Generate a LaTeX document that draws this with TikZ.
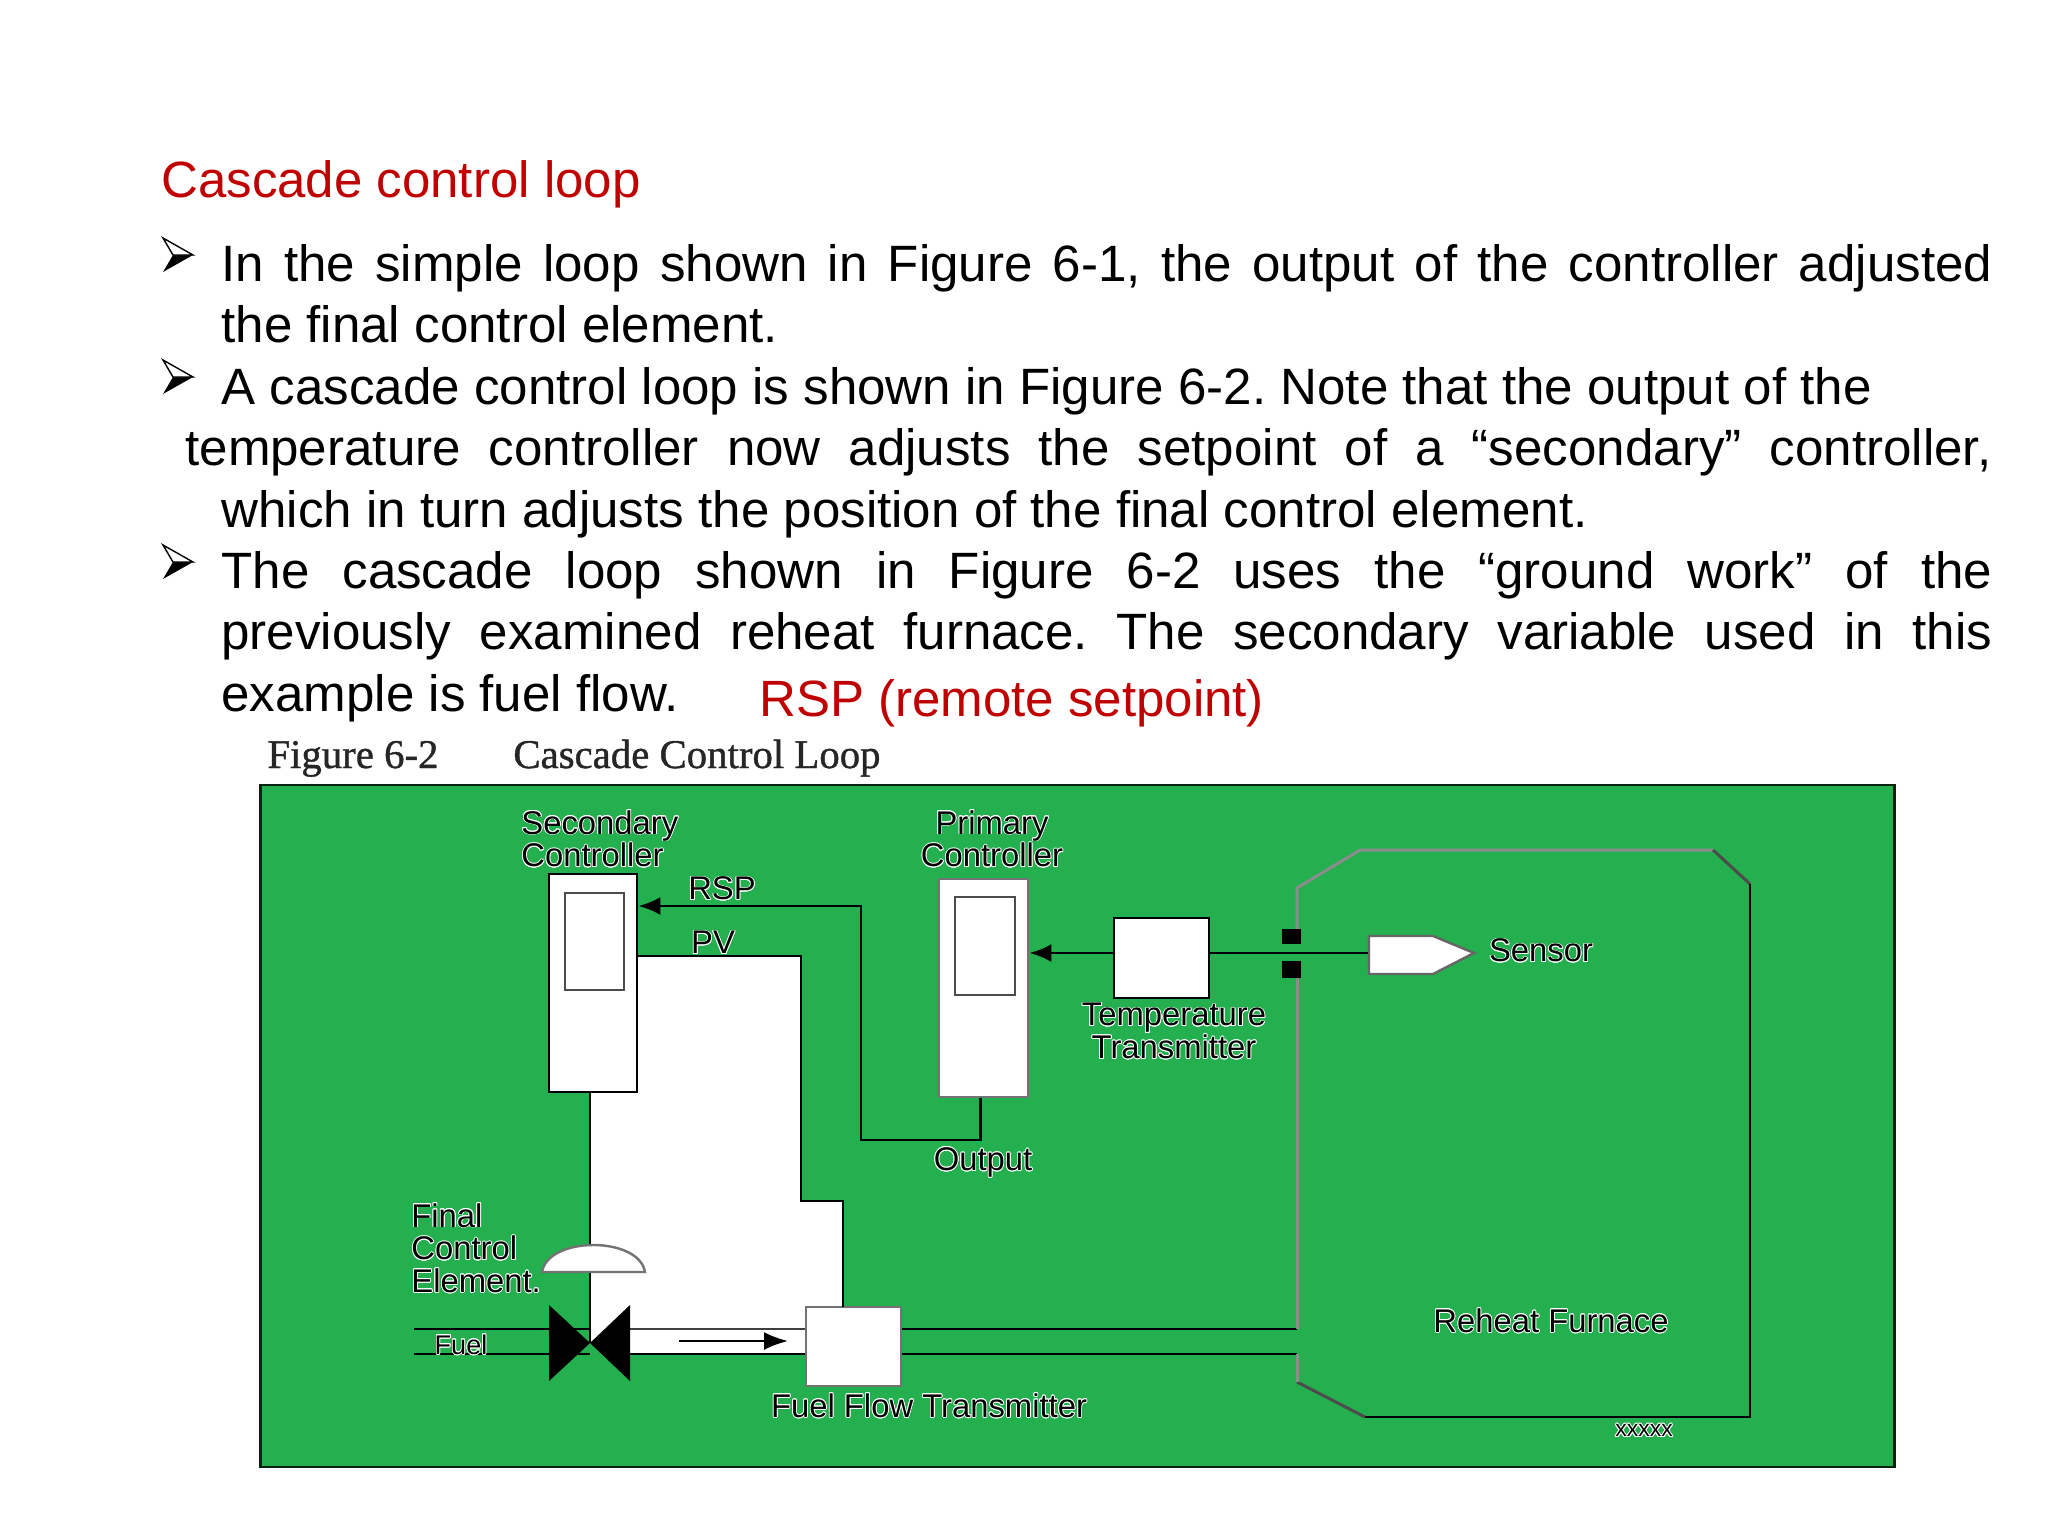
\documentclass[tikz,border=0pt]{standalone}
\usepackage{fontspec}
\setmainfont{Liberation Sans}
\newfontfamily\figfont[FakeBold=1]{Liberation Serif}
\usepackage[copies]{contour}
\contourlength{0.4pt}
\usetikzlibrary{arrows.meta, calc}
\definecolor{cGreen}{RGB}{36,176,78}
\definecolor{cRed}{RGB}{192,0,0}
\newcommand{\gl}[1]{\contour{white}{#1}}
\frenchspacing
\begin{document}
\begin{tikzpicture}[x=0.5pt, y=-0.5pt,
            body/.style={anchor=base west, inner sep=0pt, font=\fontsize{25.55}{30}\selectfont},
            head/.style={anchor=base west, inner sep=0pt, text=cRed, font=\fontsize{25.5}{30}\selectfont},
            lbl/.style={inner sep=0pt, align=center, text=black, font=\fontsize{16.4}{16.3}\selectfont},
            figcap/.style={anchor=base west, inner sep=0pt, text=black!85, font=\figfont\fontsize{20.4}{24}\selectfont},
            boxb/.style={draw=black, fill=white, line width=1.4pt, inner sep=0pt},
            wire/.style={draw=black, line width=1.4pt},
            wall/.style={draw=black!45, line width=1.5pt}]
            \useasboundingbox (0,0) rectangle (2048,1536);
            % text lines
            \node[head] (title) at (161,197) {Cascade control loop};
            \node[body] (l1) at (221,281) {\makebox[885.5pt][s]{In the simple loop shown in Figure 6-1, the output of the controller adjusted}};
            \node[body] (l2) at (221,342) {the final control element.};
            \node[body] (l3) at (221,404) {A cascade control loop is shown in Figure 6-2. Note that the output of the};
            \node[body] (l4) at (185,465) {\makebox[903pt][s]{temperature controller now adjusts the setpoint of a “secondary” controller,}};
            \node[body] (l5) at (221,527) {which in turn adjusts the position of the final control element.};
            \node[body] (l6) at (221,588) {\makebox[885.5pt][s]{The cascade loop shown in Figure 6-2 uses the “ground work” of the}};
            \node[body] (l7) at (221,649) {\makebox[885.5pt][s]{previously examined reheat furnace. The secondary variable used in this}};
            \node[body] (l8) at (221,711) {example is fuel flow.};
            \node[head] (rsp) at (759,716) {RSP (remote setpoint)};
            \foreach \y in {255,377,562} {
              \fill[black] (163,\y+17) -- (193,\y) -- (173,\y) -- cycle;
              \draw[black, line width=0.7pt, line join=miter, fill=white] (163,\y-17) -- (193,\y) -- (173,\y) -- cycle;
            }
            % figure
            \node[figcap] (figno) at (267,768) {Figure 6-2};
            \node[figcap] (figname) at (513,768) {Cascade Control Loop};
            \node[draw=black!80!cGreen, fill=cGreen, line width=1.3pt, inner sep=0pt, minimum width=817pt, minimum height=341pt] (back) at (1077.5,1126) {};
            \coordinate (valve) at (590,1343);
            \coordinate (wallx) at (1297,0);
            \coordinate (pipetop) at (0,1329);
            \coordinate (pipebot) at (0,1354);
            % white space under the PV line
            \fill[white] (590,1092) -- (637,1092) -- (637,956) -- (801,956) -- (801,1201) -- (843,1201) -- (843,1329)
              -- (806,1329) -- (806,1354) -- (630,1354) -- (valve) -- cycle;
            \node[boxb, minimum width=44pt, minimum height=109pt] (secondary) at (593,983) {};
            \node[boxb, draw=black!70, minimum width=29.5pt, minimum height=48.5pt] (secdisp) at (594.5,941.5) {};
            \node[boxb, draw=black!55, minimum width=44.5pt, minimum height=109pt] (primary) at (983.5,988) {};
            \node[boxb, draw=black!70, minimum width=30pt, minimum height=49pt] (pridisp) at (985,946) {};
            \node[boxb, minimum width=47.5pt, minimum height=40pt] (tt) at (1161.5,958) {};
            \node[boxb, draw=black!55, minimum width=47.5pt, minimum height=39.5pt] (fft) at (853.5,1346.5) {};
            \coordinate (sig) at ([yshift=2.5pt]tt.west);
            \coordinate (senl) at (1369,953);
            \coordinate (rspb) at (861,1140);
            \coordinate (rspt) at (861,906);
            % signal lines
            \draw[wire, -{Latex[length=11pt, width=9pt]}] ([xshift=-1.5pt]primary.south) |- (rspb) -- (rspt) -- (rspt -| secondary.east);
            \draw[wire] (secondary.east |- 0,956) -- (801,956) -- (801,1201) -- (843,1201) -- (843,1307);
            \draw[wire] (secondary.south -| valve) -- (valve);
            \draw[wire, -{Latex[length=11pt, width=9pt]}] (sig) -- (sig -| primary.east);
            \draw[wire] (sig -| tt.east) -- (senl);
            % pipes
            \draw[wire] (414,1329) -- (pipetop -| valve);
            \draw[wire] (414,1354) -- (pipebot -| valve);
            \draw[wire, draw=black!75] (630,1329) -- (pipetop -| fft.west);
            \draw[wire] (630,1354) -- (pipebot -| fft.west);
            \draw[wire] (pipetop -| fft.east) -- (pipetop -| wallx);
            \draw[wire] (pipebot -| fft.east) -- (pipebot -| wallx);
            \coordinate (flowa) at (679,1341);
            \coordinate (flowb) at (788,1341);
            \draw[wire, line width=1.2pt, -{Latex[length=12pt, width=9pt]}] (flowa) -- (flowb);
            % valve and actuator
            \fill[black] (valve) -- (549,1305) -- (549,1381) -- cycle;
            \fill[black] (valve) -- (630,1305) -- (630,1381) -- cycle;
            \draw[draw=black!55, fill=white, line width=1.2pt] (542,1272) .. controls (548,1236) and (639,1236) .. (645,1272) -- cycle;
            % furnace
            \draw[wall] (1297,929) -- (1297,888) -- (1360,850) -- (1713,850);
            \draw[wall, draw=black!70] (1713,850) -- (1750,884);
            \draw[wire] (1750,884) -- (1750,1417) -- (1365,1417);
            \draw[wall, draw=black!70] (1365,1417) -- (1297,1382);
            \draw[wall] (1297,1382) -- (1297,1354);
            \draw[wall] (1297,1329) -- (1297,978);
            \fill[black] (1282,929) rectangle (1301,944);
            \fill[black] (1282,961) rectangle (1301,978);
            \draw[draw=black!60, fill=white, line width=1.2pt] (1369,936) -- (1433,936) -- (1474,953) -- (1433,974) -- (1369,974) -- cycle;
            % labels
            \node[lbl, anchor=north west, align=left] (seclbl) at (521,810) {\gl{Secondary}\\\gl{Controller}};
            \node[lbl, anchor=north] (prilbl) at (992,810) {\gl{Primary}\\\gl{Controller}};
            \node[lbl] (rsplbl) at (722,889) {\gl{RSP}};
            \node[lbl] (pvlbl) at (713,943) {\gl{PV}};
            \node[lbl, anchor=north] (ttlbl) at (1174,1003) {\gl{Temperature}\\\gl{Transmitter}};
            \node[lbl] (senlbl) at (1541,951) {\gl{Sensor}};
            \node[lbl] (outlbl) at (983,1163) {\gl{Output}};
            \node[lbl, anchor=north west, align=left] (fcelbl) at (411,1203) {\gl{Final}\\\gl{Control}\\\gl{Element.}};
            \node[lbl, font=\fontsize{13.5}{14}\selectfont] (fuellbl) at (461,1345) {\gl{Fuel}};
            \node[lbl] (fftlbl) at (929,1406) {\gl{Fuel Flow Transmitter}};
            \node[lbl] (furlbl) at (1551,1321) {\gl{Reheat Furnace}};
            \node[lbl, font=\fontsize{11.5}{14}\selectfont] (xlbl) at (1644,1431) {\gl{xxxxx}};
        \end{tikzpicture}
\end{document}
